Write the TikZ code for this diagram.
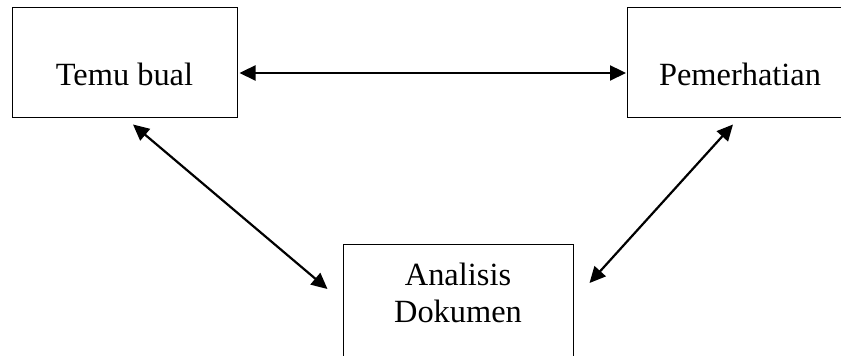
\documentclass[tikz,border=0pt]{standalone}
\usepackage{fontspec}
\setmainfont{Liberation Serif}
\usetikzlibrary{arrows.meta,positioning}

\begin{document}
\begin{tikzpicture}[x=0.5pt, y=-0.5pt, font=\fontsize{16.2}{18.5}\selectfont,
    method/.style={draw, line width=0.5pt, minimum width=112.5pt, minimum height=55pt, text height=23pt, text depth=0pt},
    link/.style={{Triangle[length=8pt,width=7.5pt]}-{Triangle[length=8pt,width=7.5pt]}, line width=1.1pt}]
  \useasboundingbox (0,0) rectangle (841,356);
  \clip (0,0) rectangle (841,356);
  \node[method] (temu) at (124.5,63) {Temu bual};
  \node[method] (pemerhatian) at (740,63) {Pemerhatian};
  \node[draw, line width=0.5pt, anchor=north, align=center, minimum width=115pt, inner ysep=9.5pt, text depth=40pt] (analisis) at (458,244) {Analisis\\Dokumen};

  \draw[link] ([shift={(2,10)}]temu.east) -- ([shift={(-1,10)}]pemerhatian.west);
  \draw[link] ([shift={(8.5,6)}]temu.south) -- ([shift={(-15,45)}]analisis.north west);
  \draw[link] ([shift={(-7,6)}]pemerhatian.south) -- ([shift={(16,39)}]analisis.north east);
\end{tikzpicture}
\end{document}
